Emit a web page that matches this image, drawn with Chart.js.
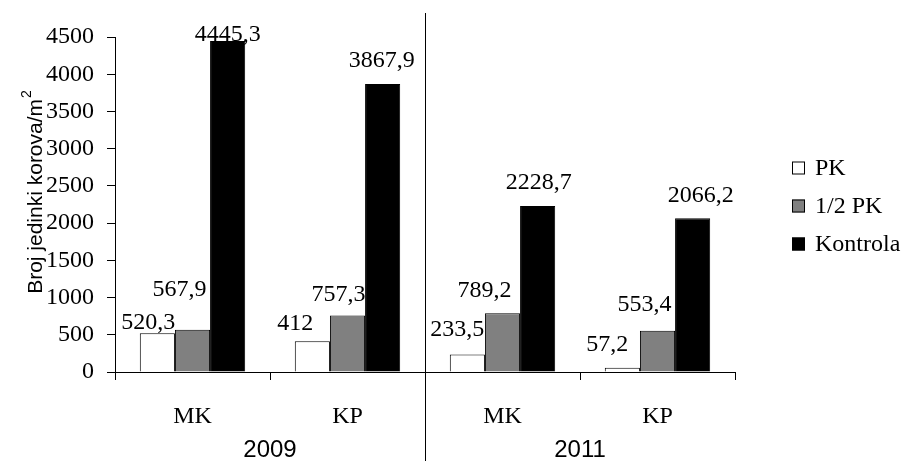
<!DOCTYPE html>
<html>
<head>
<meta charset="utf-8">
<script src="https://cdn.jsdelivr.net/npm/chart.js@4.4.1/dist/chart.umd.min.js"></script>
<style>
  html, body { margin: 0; padding: 0; background: #fff; }
  #wrap { width: 904px; height: 461px; }
</style>
</head>
<body>
<div id="wrap"><canvas id="c" width="904" height="461"></canvas></div>
<script>
// ---- data ----
const categories = ['MK', 'KP', 'MK', 'KP'];
const years = ['2009', '2011'];
const seriesNames = ['PK', '1/2 PK', 'Kontrola'];
const pkValues = [520.3, 412, 233.5, 57.2];
const halfPkValues = [567.9, 757.3, 789.2, 553.4];
const kontrolaValues = [4445.3, 3867.9, 2228.7, 2066.2];
const yTickValues = [0, 500, 1000, 1500, 2000, 2500, 3000, 3500, 4000, 4500];
const yTitle = 'Broj jedinki korova/m';
const yTitleSup = '2';

// ---- styles ----
const serif = '"Liberation Serif", "Times New Roman", serif';
const sans = '"Liberation Sans", Arial, sans-serif';
const fills = ['#ffffff', '#808080', '#000000'];

// label offsets (dx, dy from bar top centre), mimic original placement
const labelOffsets = [
  [[-9, -11], [-17, -18], [-10, -25], [-15, -23]],
  [[-13, -40], [-9, -21], [-18, -23], [-13, -26]],
  [[0, -6], [-1, -23], [1, -23], [8, -22]]
];

function fmt(v) { return String(v).replace('.', ','); }

const decorPlugin = {
  id: 'decor',
  afterDatasetsDraw(chart) {
    const ctx = chart.ctx;
    ctx.save();
    ctx.fillStyle = '#000';
    ctx.font = '24px ' + serif;
    ctx.textAlign = 'center';
    ctx.textBaseline = 'middle';
    chart.data.datasets.forEach((ds, di) => {
      const meta = chart.getDatasetMeta(di);
      meta.data.forEach((el, i) => {
        const off = labelOffsets[di][i];
        ctx.fillText(fmt(ds.data[i]), el.x + off[0], el.y + off[1]);
      });
    });
    ctx.restore();
  },
  afterDraw(chart) {
    const ctx = chart.ctx;
    const xs = chart.scales.x;
    const area = chart.chartArea;
    ctx.save();
    // separator between years
    const sepX = Math.round((xs.getPixelForValue(1) + xs.getPixelForValue(2)) / 2) + 0.5;
    ctx.strokeStyle = '#000';
    ctx.lineWidth = 1;
    ctx.beginPath();
    ctx.moveTo(sepX, 13);
    ctx.lineTo(sepX, 461);
    ctx.stroke();
    // year labels
    ctx.fillStyle = '#000';
    ctx.font = '24px ' + sans;
    ctx.textAlign = 'center';
    ctx.textBaseline = 'middle';
    years.forEach((y, k) => {
      const cx = (xs.getPixelForValue(2 * k) + xs.getPixelForValue(2 * k + 1)) / 2;
      ctx.fillText(y, cx, 450);
    });
    // y title (rotated) with superscript
    ctx.save();
    ctx.translate(36, (area.top + area.bottom) / 2 - 12);
    ctx.rotate(-Math.PI / 2);
    ctx.font = '21px ' + sans;
    const w1 = ctx.measureText(yTitle).width;
    ctx.font = '14px ' + sans;
    const w2 = ctx.measureText(yTitleSup).width;
    const start = -(w1 + w2) / 2;
    ctx.textAlign = 'left';
    ctx.font = '21px ' + sans;
    ctx.fillText(yTitle, start, 0);
    ctx.font = '14px ' + sans;
    ctx.fillText(yTitleSup, start + w1 + 1, -9);
    ctx.restore();
    // legend
    ctx.font = '24px ' + serif;
    ctx.textAlign = 'left';
    ctx.textBaseline = 'middle';
    const legY = [168, 206, 244];
    chart.data.datasets.forEach((ds, di) => {
      ctx.fillStyle = ds.backgroundColor;
      ctx.fillRect(792, legY[di] - 6.5, 13, 13);
      ctx.strokeStyle = '#000';
      ctx.strokeRect(792.5, legY[di] - 6, 12, 12);
      ctx.fillStyle = '#000';
      ctx.fillText(ds.label, 815, legY[di] + 1);
    });
    ctx.restore();
  }
};

const seriesValues = [pkValues, halfPkValues, kontrolaValues];

new Chart(document.getElementById('c'), {
  type: 'bar',
  data: {
    labels: categories,
    datasets: seriesNames.map((name, i) => ({
      label: name,
      data: seriesValues[i],
      backgroundColor: fills[i],
      borderColor: '#000',
      borderWidth: 1,
      categoryPercentage: 0.68,
      barPercentage: 1.0
    }))
  },
  options: {
    responsive: false,
    animation: false,
    devicePixelRatio: 1,
    layout: { padding: { left: 0, right: 169, top: 37, bottom: 0 } },
    plugins: { legend: { display: false }, tooltip: { enabled: false } },
    scales: {
      x: {
        offset: true,
        grid: { offset: true, drawOnChartArea: false, color: '#000', tickLength: 8, tickWidth: 1 },
        border: { color: '#000', width: 1 },
        ticks: { color: '#000', font: { family: serif, size: 24 }, padding: 22 },
        afterFit(scale) { scale.height = 89; }
      },
      y: {
        min: 0,
        max: 4500,
        afterBuildTicks(scale) { scale.ticks = yTickValues.map(v => ({ value: v })); },
        grid: { drawOnChartArea: false, color: '#000', tickLength: 8, tickWidth: 1 },
        border: { color: '#000', width: 1 },
        ticks: { color: '#000', font: { family: serif, size: 24 }, padding: 13, callback: (v) => String(v) },
        afterFit(scale) { scale.width = 115; }
      }
    }
  },
  plugins: [decorPlugin]
});
</script>
</body>
</html>
